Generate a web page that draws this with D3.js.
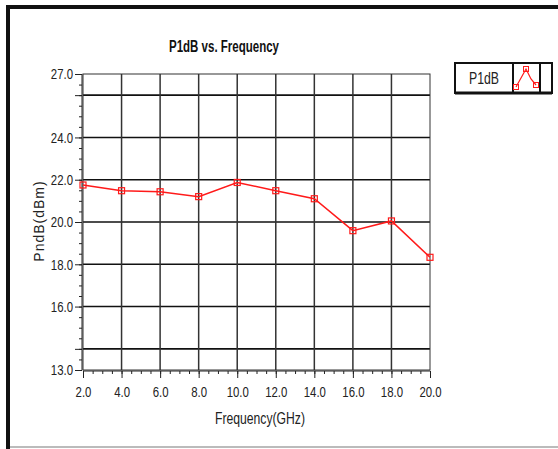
<!DOCTYPE html>
<html>
<head>
<meta charset="utf-8">
<script src="https://cdn.jsdelivr.net/npm/d3@7"></script>
<style>
  body { margin: 0; background: #fff; }
  svg { display: block; }
</style>
</head>
<body>
<svg width="558" height="449"></svg>
<script>
// values
let freq = [2, 4, 6, 8, 10, 12, 14, 16, 18, 20];
let p1db = [21.75, 21.48, 21.43, 21.2, 21.87, 21.48, 21.1, 19.59, 20.05, 18.33];
let xTicks = [2, 4, 6, 8, 10, 12, 14, 16, 18, 20];
let yTickLabels = [13, 16, 18, 20, 22, 24, 27];
let yGrid = [14, 16, 18, 20, 22, 24, 26];

let margin = ({top: 74, right: 128, bottom: 79, left: 83});
let width = 558, height = 449;
let font = "'Liberation Sans', 'DejaVu Sans', sans-serif";
let squeeze = 0.76; // the original font is a narrow one

let svg = d3.select("svg");

let x = d3.scaleLinear([2, 20], [margin.left, width - margin.right]);
let y = d3.scaleLinear([13, 27], [height - margin.bottom, margin.top]);

// frame around the whole panel
svg.append("rect").attr("x", 6).attr("y", 5).attr("width", 4).attr("height", height - 5).attr("fill", "#111");
svg.append("rect").attr("x", 6).attr("y", 5).attr("width", width - 6).attr("height", 4).attr("fill", "#111");
svg.append("rect").attr("x", 10).attr("y", 446).attr("width", width - 10).attr("height", 2).attr("fill", "#bbb");

// grid
let grid = svg.append("g");
grid.selectAll("line.h")
    .data(yGrid)
    .join("line")
    .attr("class", "h")
    .attr("x1", x(2)).attr("x2", x(20))
    .attr("y1", d => y(d)).attr("y2", d => y(d))
    .attr("stroke", "#111").attr("stroke-width", 1.6);
grid.selectAll("line.v")
    .data(xTicks.slice(1, -1))
    .join("line")
    .attr("class", "v")
    .attr("y1", y(13)).attr("y2", y(27))
    .attr("x1", d => x(d)).attr("x2", d => x(d))
    .attr("stroke", "#333").attr("stroke-width", 1.5);

svg.append("rect")
    .attr("x", x(2)).attr("y", y(27))
    .attr("width", x(20) - x(2)).attr("height", y(13) - y(27))
    .attr("fill", "none").attr("stroke", "#333").attr("stroke-width", 1);

// x axis
let xMinor = d3.range(2, 20.01, 0.5);
svg.append("g")
    .attr("transform", `translate(0,${y(13) + 1})`)
    .call(d3.axisBottom(x).tickValues(xMinor).tickSize(3).tickFormat(""))
    .call(g => g.select(".domain").remove())
    .call(g => g.selectAll("line").attr("stroke", "#222"));
svg.append("g")
    .attr("transform", `translate(0,${y(13) + 1})`)
    .call(d3.axisBottom(x).tickValues(xTicks).tickSize(7).tickPadding(8).tickFormat(d3.format(".1f")))
    .call(g => g.select(".domain").attr("stroke", "#222").attr("d", `M${x(2)},0H${x(20)}`))
    .call(g => g.selectAll("line").attr("stroke", "#222"))
    .call(g => g.selectAll("text")
        .attr("font-family", font).attr("font-size", 15).attr("fill", "#222")
        .attr("transform", `scale(${squeeze},1)`));

// y axis
let yMinor = d3.range(13, 27.01, 0.5);
svg.append("g")
    .attr("transform", `translate(${x(2) - 1},0)`)
    .call(d3.axisLeft(y).tickValues(yMinor).tickSize(3).tickFormat(""))
    .call(g => g.select(".domain").remove())
    .call(g => g.selectAll("line").attr("stroke", "#222"));
svg.append("g")
    .attr("transform", `translate(${x(2) - 1},0)`)
    .call(d3.axisLeft(y).tickValues([14, 26]).tickSize(7).tickFormat(""))
    .call(g => g.select(".domain").remove())
    .call(g => g.selectAll("line").attr("stroke", "#222"));
svg.append("g")
    .attr("transform", `translate(${x(2) - 1},0)`)
    .call(d3.axisLeft(y).tickValues(yTickLabels).tickSize(7).tickPadding(2).tickFormat(d3.format(".1f")))
    .call(g => g.select(".domain").attr("stroke", "#222").attr("d", `M0,${y(13)}V${y(27)}`))
    .call(g => g.selectAll("line").attr("stroke", "#222"))
    .call(g => g.selectAll("text")
        .attr("font-family", font).attr("font-size", 15).attr("fill", "#222")
        .attr("x", -9 / squeeze)
        .attr("transform", `scale(${squeeze},1)`));

// series
let pts = freq.map((f, i) => [f, p1db[i]]);
svg.append("path")
    .datum(pts)
    .attr("fill", "none")
    .attr("stroke", "#ff1a1a")
    .attr("stroke-width", 1.5)
    .attr("d", d3.line(d => x(d[0]), d => y(d[1])));
svg.append("g")
    .selectAll("rect")
    .data(pts)
    .join("rect")
    .attr("x", d => x(d[0]) - 3).attr("y", d => y(d[1]) - 3)
    .attr("width", 6).attr("height", 6)
    .attr("fill", "none").attr("stroke", "#ff1a1a").attr("stroke-width", 1.2);

// titles
svg.append("text")
    .attr("x", 224).attr("y", 52)
    .attr("text-anchor", "middle")
    .attr("font-family", font).attr("font-weight", "bold").attr("font-size", 16)
    .attr("textLength", 110).attr("lengthAdjust", "spacingAndGlyphs")
    .attr("fill", "#111")
    .text("P1dB vs. Frequency");
svg.append("text")
    .attr("x", 260).attr("y", 424)
    .attr("text-anchor", "middle")
    .attr("font-family", font).attr("font-size", 16)
    .attr("textLength", 90).attr("lengthAdjust", "spacingAndGlyphs")
    .attr("fill", "#222")
    .text("Frequency(GHz)");
svg.append("text")
    .attr("transform", "translate(44,221) rotate(-90)")
    .attr("text-anchor", "middle")
    .attr("font-family", font).attr("font-size", 14)
    .attr("letter-spacing", 1)
    .attr("fill", "#222")
    .text("PndB(dBm)");

// legend
let lg = svg.append("g");
lg.append("rect").attr("x", 455).attr("y", 63).attr("width", 97).attr("height", 30)
    .attr("fill", "#fff").attr("stroke", "#111").attr("stroke-width", 2);
lg.append("rect").attr("x", 513).attr("y", 63).attr("width", 27).attr("height", 30)
    .attr("fill", "#fff").attr("stroke", "#111").attr("stroke-width", 2);
lg.append("line").attr("x1", 455).attr("x2", 552).attr("y1", 93).attr("y2", 93)
    .attr("stroke", "#111").attr("stroke-width", 3);
lg.append("text").attr("x", 484).attr("y", 84)
    .attr("text-anchor", "middle")
    .attr("font-family", font).attr("font-size", 16).attr("fill", "#222")
    .attr("textLength", 30).attr("lengthAdjust", "spacingAndGlyphs")
    .text("P1dB");
let icon = [[516, 87], [526, 69], [531, 79], [536, 85]];
lg.append("path")
    .datum(icon)
    .attr("fill", "none").attr("stroke", "#ff1a1a").attr("stroke-width", 1.2)
    .attr("d", d3.line());
lg.selectAll("rect.m")
    .data([icon[0], icon[1], icon[3]])
    .join("rect")
    .attr("class", "m")
    .attr("x", d => d[0] - 2.5).attr("y", d => d[1] - 2.5)
    .attr("width", 5).attr("height", 5)
    .attr("fill", "none").attr("stroke", "#ff1a1a").attr("stroke-width", 1);
</script>
</body>
</html>
